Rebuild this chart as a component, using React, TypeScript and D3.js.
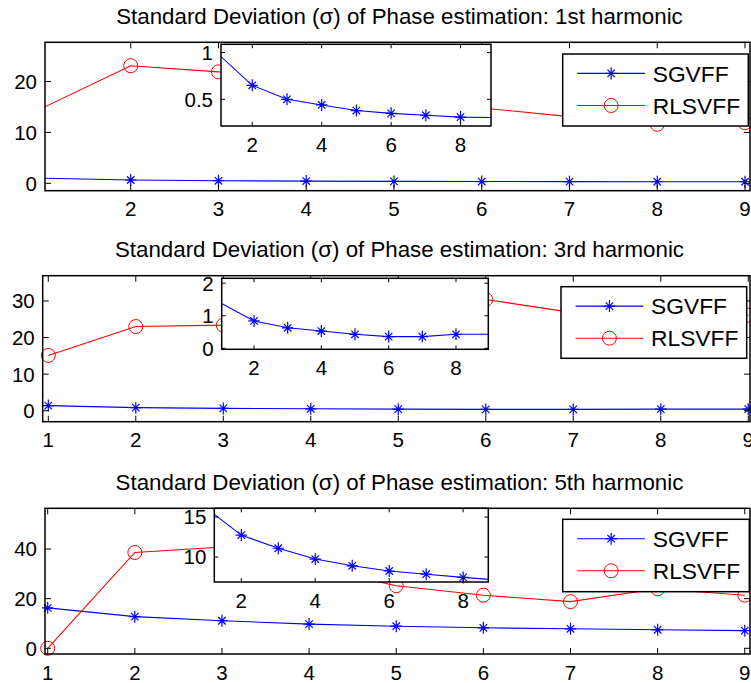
import React from "react";
import * as d3 from "d3";

// Harmonic index on the horizontal axis
const HARMONIC_X = [1, 2, 3, 4, 5, 6, 7, 8, 9];

// Standard deviation of the phase estimate per series
const SGVFF_1ST = [0.99, 0.65, 0.5, 0.44, 0.38, 0.35, 0.33, 0.31, 0.305];
const RLSVFF_1ST = [14.85, 23.1, 21.9, 19.5, 17.2, 14.8, 13.1, 11.6, 11.9];
const SGVFF_3RD = [1.4, 0.84, 0.63, 0.53, 0.43, 0.36, 0.36, 0.43, 0.43];
const RLSVFF_3RD = [15.1, 23.0, 23.4, 25.5, 28.0, 30.4, 26.8, 26.4, 26.1];
const SGVFF_5TH = [16.3, 12.75, 11.1, 9.75, 8.9, 8.25, 7.85, 7.45, 7.1];
const RLSVFF_5TH = [0.0, 38.6, 40.8, 33.0, 25.2, 21.4, 18.8, 24.0, 21.4];

const SERIES_NAMES = ["SGVFF", "RLSVFF"];
const TITLES = [
  "Standard Deviation (σ) of Phase estimation: 1st harmonic",
  "Standard Deviation (σ) of Phase estimation: 3rd harmonic",
  "Standard Deviation (σ) of Phase estimation: 5th harmonic",
];

// Tick values
const MAIN_X_TICKS = [1, 2, 3, 4, 5, 6, 7, 8, 9];
const MAIN_Y_TICKS_1ST = [0, 10, 20];
const MAIN_Y_TICKS_3RD = [0, 10, 20, 30];
const MAIN_Y_TICKS_5TH = [0, 20, 40];
const INSET_X_TICKS = [2, 4, 6, 8];
const INSET_Y_TICKS_1ST = [0.5, 1];
const INSET_Y_TICKS_3RD = [0, 1, 2];
const INSET_Y_TICKS_5TH = [10, 15];

const BLUE = "#0000ff";
const RED = "#ff0000";
const FONT = "'Liberation Sans', Arial, Helvetica, sans-serif";
const TICK_FONT = 20.5;
const TITLE_FONT = 22.3;
const LEGEND_FONT = 22.8;

type Box = { left: number; top: number; right: number; bottom: number };
type AxesSpec = Box & {
  xDomain: [number, number];
  yDomain: [number, number];
  xTicks: number[];
  yTicks: number[];
  tickLen: number;
};

// Subplot layout: main axes, zoomed SGVFF inset and legend box
const PANELS = [
  {
    title: TITLES[0],
    titleY: 24,
    sgvff: SGVFF_1ST,
    rlsvff: RLSVFF_1ST,
    main: {
      left: 45, top: 42.3, right: 750, bottom: 190.7,
      xDomain: [1.023, 9.057], yDomain: [-1.45, 27.7],
      xTicks: MAIN_X_TICKS, yTicks: MAIN_Y_TICKS_1ST, tickLen: 6,
    } as AxesSpec,
    inset: {
      left: 221, top: 44.3, right: 491, bottom: 126,
      xDomain: [1.099, 8.877], yDomain: [0.215, 1.088],
      xTicks: INSET_X_TICKS, yTicks: INSET_Y_TICKS_1ST, tickLen: 4,
    } as AxesSpec,
    legend: { left: 562.7, top: 54, right: 748.3, bottom: 126 } as Box,
  },
  {
    title: TITLES[1],
    titleY: 256.7,
    sgvff: SGVFF_3RD,
    rlsvff: RLSVFF_3RD,
    main: {
      left: 42.7, top: 275.7, right: 750, bottom: 421.7,
      xDomain: [0.936, 9.02], yDomain: [-3, 36.9],
      xTicks: MAIN_X_TICKS, yTicks: MAIN_Y_TICKS_3RD, tickLen: 6,
    } as AxesSpec,
    inset: {
      left: 221.7, top: 278.3, right: 488.3, bottom: 349.3,
      xDomain: [1.04, 8.96], yDomain: [-0.03, 2.15],
      xTicks: INSET_X_TICKS, yTicks: INSET_Y_TICKS_3RD, tickLen: 4,
    } as AxesSpec,
    legend: { left: 561, top: 286.7, right: 746.7, bottom: 358.3 } as Box,
  },
  {
    title: TITLES[2],
    titleY: 490,
    sgvff: SGVFF_5TH,
    rlsvff: RLSVFF_5TH,
    main: {
      left: 45, top: 508.3, right: 750, bottom: 654,
      xDomain: [0.969, 9.06], yDomain: [-2.3, 56.4],
      xTicks: MAIN_X_TICKS, yTicks: MAIN_Y_TICKS_5TH, tickLen: 6,
    } as AxesSpec,
    inset: {
      left: 214.3, top: 508.3, right: 488.3, bottom: 582,
      xDomain: [1.27, 8.68], yDomain: [6.875, 16.1],
      xTicks: INSET_X_TICKS, yTicks: INSET_Y_TICKS_5TH, tickLen: 4,
    } as AxesSpec,
    legend: { left: 562.7, top: 519.3, right: 749.3, bottom: 591.7 } as Box,
  },
];

function Asterisk({ x, y, color, r = 6 }: { x: number; y: number; color: string; r?: number }) {
  const d = r * 0.62;
  return (
    <path
      d={`M${x - r * 0.95},${y}H${x + r * 0.95}M${x},${y - r}V${y + r}M${x - d},${y - d}L${x + d},${y + d}M${x - d},${y + d}L${x + d},${y - d}`}
      stroke={color}
      strokeWidth={1.2}
      fill="none"
    />
  );
}

function Ring({ x, y, color, r = 7 }: { x: number; y: number; color: string; r?: number }) {
  return <circle cx={x} cy={y} r={r} stroke={color} strokeWidth={1} fill="none" />;
}

type Series = { values: number[]; color: string; marker: "star" | "ring" };

function Axes({ spec, series, id }: { spec: AxesSpec; series: Series[]; id: string }) {
  const x = d3.scaleLinear().domain(spec.xDomain).range([spec.left, spec.right]);
  const y = d3.scaleLinear().domain(spec.yDomain).range([spec.bottom, spec.top]);
  const line = d3
    .line<number>()
    .x((_, i) => x(HARMONIC_X[i]))
    .y((v) => y(v));
  const inX = (v: number) => v >= spec.xDomain[0] && v <= spec.xDomain[1];
  const inY = (v: number) => v >= spec.yDomain[0] && v <= spec.yDomain[1];
  const w = spec.right - spec.left;
  const h = spec.bottom - spec.top;
  const t = spec.tickLen;
  return (
    <g>
      <defs>
        <clipPath id={id}>
          <rect x={spec.left} y={spec.top} width={w} height={h} />
        </clipPath>
      </defs>
      <rect x={spec.left} y={spec.top} width={w} height={h} fill="#fff" />
      {series.map((s, si) => (
        <g key={si}>
          <path d={line(s.values) || ""} stroke={s.color} strokeWidth={1.1} fill="none" clipPath={`url(#${id})`} />
          {s.values.map((v, i) =>
            inX(HARMONIC_X[i]) && inY(v) ? (
              s.marker === "star" ? (
                <Asterisk key={i} x={x(HARMONIC_X[i])} y={y(v)} color={s.color} />
              ) : (
                <Ring key={i} x={x(HARMONIC_X[i])} y={y(v)} color={s.color} />
              )
            ) : null
          )}
        </g>
      ))}
      {/* ticks on all four sides, pointing inward */}
      {spec.xTicks.filter(inX).map((tv) => (
        <g key={`xt${tv}`} stroke="#000" strokeWidth={1}>
          <line x1={x(tv)} x2={x(tv)} y1={spec.bottom} y2={spec.bottom - t} />
          <line x1={x(tv)} x2={x(tv)} y1={spec.top} y2={spec.top + t} />
        </g>
      ))}
      {spec.yTicks.filter(inY).map((tv) => (
        <g key={`yt${tv}`} stroke="#000" strokeWidth={1}>
          <line x1={spec.left} x2={spec.left + t} y1={y(tv)} y2={y(tv)} />
          <line x1={spec.right} x2={spec.right - t} y1={y(tv)} y2={y(tv)} />
        </g>
      ))}
      <rect x={spec.left} y={spec.top} width={w} height={h} fill="none" stroke="#000" strokeWidth={1.5} />
      <g fontFamily={FONT} fontSize={TICK_FONT} fill="#000">
        {spec.xTicks.filter(inX).map((tv) => (
          <text key={`xl${tv}`} x={x(tv)} y={spec.bottom + 25.5} textAnchor="middle">
            {String(tv)}
          </text>
        ))}
        {spec.yTicks.filter(inY).map((tv) => (
          <text key={`yl${tv}`} x={spec.left - 8} y={y(tv)} dy="0.36em" textAnchor="end">
            {String(tv)}
          </text>
        ))}
      </g>
    </g>
  );
}

function Legend({ box }: { box: Box }) {
  const rows = [
    { name: SERIES_NAMES[0], color: BLUE, marker: "star", y: box.top + 19.4 },
    { name: SERIES_NAMES[1], color: RED, marker: "ring", y: box.top + 51.5 },
  ];
  const x0 = box.left + 14.6;
  const x1 = box.left + 82.3;
  const xm = (x0 + x1) / 2;
  return (
    <g>
      <rect
        x={box.left}
        y={box.top}
        width={box.right - box.left}
        height={box.bottom - box.top}
        fill="#fff"
        stroke="#000"
        strokeWidth={1.5}
      />
      {rows.map((r) => (
        <g key={r.name}>
          <line x1={x0} x2={x1} y1={r.y} y2={r.y} stroke={r.color} strokeWidth={1.1} />
          {r.marker === "star" ? <Asterisk x={xm} y={r.y} color={r.color} /> : <Ring x={xm} y={r.y} color={r.color} />}
          <text x={box.left + 90} y={r.y} dy="0.36em" fontFamily={FONT} fontSize={LEGEND_FONT} fill="#000">
            {r.name}
          </text>
        </g>
      ))}
    </g>
  );
}

export default function App() {
  return (
    <svg
      width={751}
      height={683}
      viewBox="0 0 751 683"
      style={{ position: "absolute", left: 0, top: 0, background: "#fff", display: "block" }}
    >
      <rect width={751} height={683} fill="#fff" />
      {PANELS.map((p, i) => (
        <g key={i}>
          <text x={399.5} y={p.titleY} textAnchor="middle" fontFamily={FONT} fontSize={TITLE_FONT} fill="#000">
            {p.title}
          </text>
          <Axes
            id={`main-clip-${i}`}
            spec={p.main}
            series={[
              { values: p.sgvff, color: BLUE, marker: "star" },
              { values: p.rlsvff, color: RED, marker: "ring" },
            ]}
          />
          <Axes id={`inset-clip-${i}`} spec={p.inset} series={[{ values: p.sgvff, color: BLUE, marker: "star" }]} />
          <Legend box={p.legend} />
        </g>
      ))}
    </svg>
  );
}
